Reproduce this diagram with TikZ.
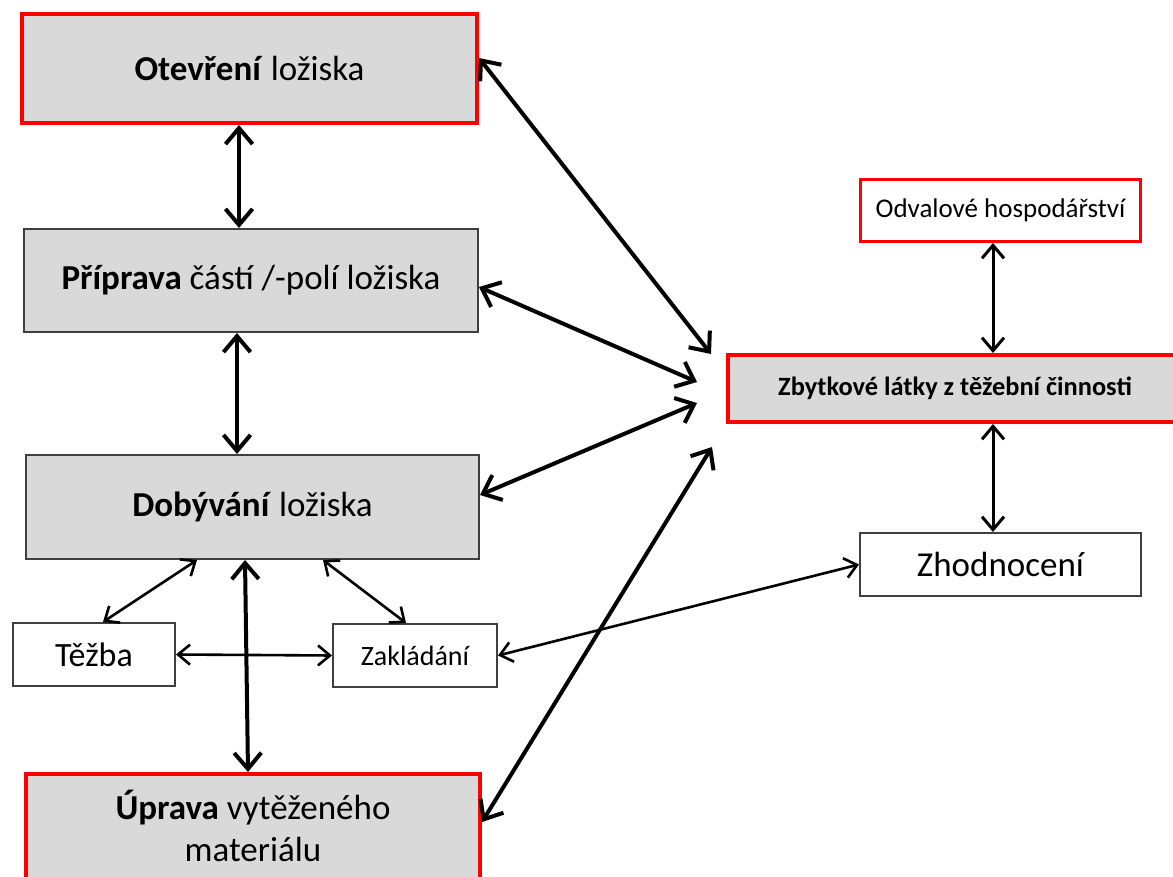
\documentclass[tikz,border=0pt]{standalone}
\usepackage{fontspec}
\setmainfont{Carlito}
\usetikzlibrary{arrows.meta,calc}
\definecolor{boxgray}{HTML}{D9D9D9}
\definecolor{edgegray}{HTML}{3F3F3F}
\definecolor{redline}{HTML}{FF0000}
\begin{document}
\begin{tikzpicture}[x=1pt,y=-1pt,
  box/.style={rectangle, inner sep=0pt, align=center},
  grayred/.style={box, fill=boxgray, draw=redline, line width=4pt},
  graygray/.style={box, fill=boxgray, draw=edgegray, line width=2pt},
  whitebox/.style={box, fill=white, draw=edgegray, line width=2pt},
  whitered/.style={box, fill=white, draw=redline, line width=3pt},
  bigarrow/.style={line width=4pt, {Straight Barb[length=16pt,width=27pt]}-{Straight Barb[length=16pt,width=27pt]}},
  midarrow/.style={line width=3pt, {Straight Barb[length=13pt,width=22pt]}-{Straight Barb[length=13pt,width=22pt]}},
  smallarrow/.style={line width=2.6pt, {Straight Barb[length=12pt,width=20pt]}-{Straight Barb[length=12pt,width=20pt]}},
  big/.style={font=\fontsize{35}{42}\selectfont}
]
\useasboundingbox[fill=white] (0,0) rectangle (1173,877);

\node[grayred, big, minimum width=455, minimum height=109] (ot) at (249.5,68.5) {\textbf{Otevření} ložiska};
\node[graygray, big, minimum width=454, minimum height=103] (pr) at (251,280.5) {\textbf{Příprava} částí /-polí ložiska};
\node[graygray, big, minimum width=453, minimum height=104] (do) at (252.5,507) {\textbf{Dobývání} ložiska};
\node[whitebox, font=\fontsize{34}{40}\selectfont, minimum width=162, minimum height=63] (te) at (94,654.5) {Těžba};
\node[whitebox, font=\fontsize{28}{34}\selectfont, minimum width=164, minimum height=63] (za) at (415,655.5) {Zakládání};
\node[grayred, big, minimum width=454, anchor=north] (up) at (253,772) {\rule{0pt}{45pt}\textbf{Úprava} vytěženého\\materiálu\\\mbox{}\\[-8pt]\mbox{}};
\node[whitered, font=\fontsize{27}{32}\selectfont, minimum width=280, minimum height=61.5] (od) at (1000.5,210.75) {Odvalové hospodářství};
\node[grayred, font=\fontsize{26.4}{32}\selectfont\bfseries, minimum width=454, minimum height=67] (zb) at (955,388.5) {Zbytkové látky z těžební činnosti};
\node[whitebox, big, minimum width=281, minimum height=63] (zh) at (1000.5,564.5) {Zhodnocení};

\coordinate (c1) at (711,354);
\coordinate (c2) at (697,382);
\coordinate (c3) at (697,403);
\coordinate (c4) at (712,447);

\draw[bigarrow] ($(ot.south)+(-10.5,0)$) -- ($(pr.north)+(-12,0)$);
\draw[bigarrow] ($(pr.south)+(-14,0)$) -- ($(do.north)+(-15.5,0)$);
\draw[bigarrow] ($(do.south)+(-7.5,0)$) -- ($(up.north)+(-5,0)$);
\draw[smallarrow] ($(do.south)+(-55.5,0)$) -- ($(te.north)+(9,0)$);
\draw[smallarrow] ($(do.south)+(70.5,0)$) -- ($(za.north)+(-9,0)$);
\draw[smallarrow] (te.east) -- (za.west);
\draw[smallarrow] (za.east) -- (zh.west);
\draw[bigarrow] ($(ot.east)+(0,-10.5)$) -- (c1);
\draw[bigarrow] ($(pr.east)+(0,6.5)$) -- (c2);
\draw[bigarrow] ($(do.east)+(0,-12)$) -- (c3);
\draw[bigarrow] ($(up.north east)+(0,50)$) -- (c4);
\draw[midarrow] ($(od.south)+(-7.5,0)$) -- ($(zb.north)+(38,0)$);
\draw[midarrow] ($(zb.south)+(38,0)$) -- ($(zh.north)+(-7.5,0)$);
\end{tikzpicture}
\end{document}
